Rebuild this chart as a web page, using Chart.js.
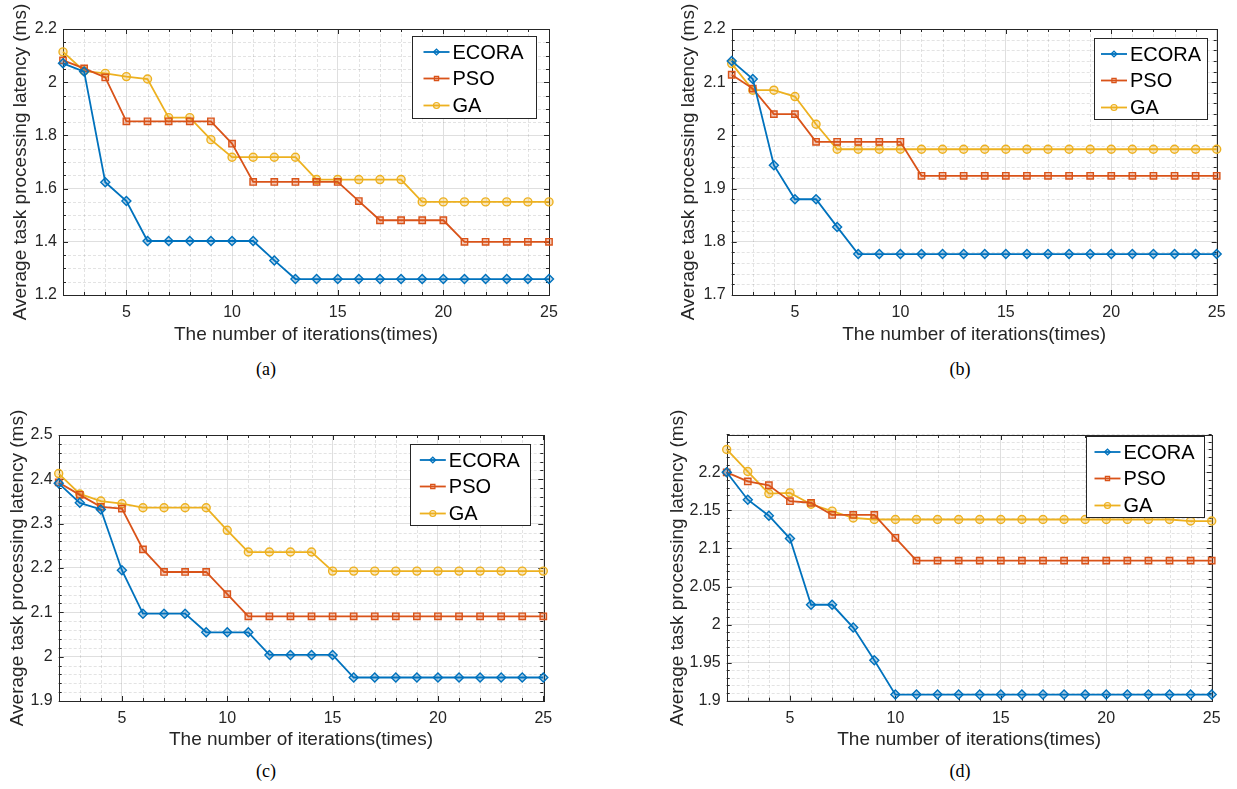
<!DOCTYPE html>
<html>
<head>
<meta charset="utf-8">
<script src="https://cdn.jsdelivr.net/npm/chart.js@4.4.1/dist/chart.umd.min.js"></script>
<style>
  body { margin: 0; background: #fff; width: 1237px; height: 789px; position: relative; overflow: hidden; }
  canvas { position: absolute; }
  .cap { position: absolute; font-family: "Liberation Serif", "Times New Roman", serif; font-size: 18px; color: #000; transform: translateX(-50%); }
</style>
</head>
<body>
<canvas id="ca" width="600" height="350" style="left:0;top:0"></canvas>
<canvas id="cb" width="577" height="350" style="left:660px;top:0"></canvas>
<canvas id="cc" width="600" height="360" style="left:0;top:400px"></canvas>
<canvas id="cd" width="577" height="360" style="left:660px;top:400px"></canvas>
<div class="cap" style="left:266px;top:359px">(a)</div>
<div class="cap" style="left:960px;top:359px">(b)</div>
<div class="cap" style="left:266px;top:761px">(c)</div>
<div class="cap" style="left:960px;top:761px">(d)</div>
<script>
// iterations on the x axis
const iterations = [2, 3, 4, 5, 6, 7, 8, 9, 10, 11, 12, 13, 14, 15, 16, 17, 18, 19, 20, 21, 22, 23, 24, 25];
const xTicks = [5, 10, 15, 20, 25];
const seriesNames = ['ECORA', 'PSO', 'GA'];

// (a)
const ecoraA = [2.071, 2.040, 1.624, 1.553, 1.403, 1.403, 1.403, 1.403, 1.403, 1.403, 1.330, 1.260, 1.260, 1.260, 1.260, 1.260, 1.260, 1.260, 1.260, 1.260, 1.260, 1.260, 1.260, 1.260];
const psoA = [2.082, 2.052, 2.018, 1.853, 1.853, 1.853, 1.853, 1.853, 1.769, 1.625, 1.625, 1.625, 1.625, 1.625, 1.553, 1.481, 1.481, 1.481, 1.481, 1.400, 1.400, 1.400, 1.400, 1.400];
const gaA = [2.114, 2.042, 2.033, 2.021, 2.012, 1.867, 1.867, 1.784, 1.718, 1.718, 1.718, 1.718, 1.634, 1.634, 1.634, 1.634, 1.634, 1.550, 1.550, 1.550, 1.550, 1.550, 1.550, 1.550];
const yTicksA = [1.2, 1.4, 1.6, 1.8, 2.0, 2.2];

// (b)
const ecoraB = [2.140, 2.106, 1.944, 1.880, 1.880, 1.828, 1.777, 1.777, 1.777, 1.777, 1.777, 1.777, 1.777, 1.777, 1.777, 1.777, 1.777, 1.777, 1.777, 1.777, 1.777, 1.777, 1.777, 1.777];
const psoB = [2.114, 2.088, 2.040, 2.040, 1.988, 1.988, 1.988, 1.988, 1.988, 1.924, 1.924, 1.924, 1.924, 1.924, 1.924, 1.924, 1.924, 1.924, 1.924, 1.924, 1.924, 1.924, 1.924, 1.924];
const gaB = [2.135, 2.085, 2.085, 2.073, 2.021, 1.974, 1.974, 1.974, 1.974, 1.974, 1.974, 1.974, 1.974, 1.974, 1.974, 1.974, 1.974, 1.974, 1.974, 1.974, 1.974, 1.974, 1.974, 1.974];
const yTicksB = [1.7, 1.8, 1.9, 2.0, 2.1, 2.2];

// (c)
const ecoraC = [2.391, 2.347, 2.332, 2.195, 2.097, 2.097, 2.097, 2.055, 2.055, 2.055, 2.004, 2.004, 2.004, 2.004, 1.953, 1.953, 1.953, 1.953, 1.953, 1.953, 1.953, 1.953, 1.953, 1.953];
const psoC = [2.393, 2.365, 2.338, 2.334, 2.242, 2.191, 2.191, 2.191, 2.141, 2.091, 2.091, 2.091, 2.091, 2.091, 2.091, 2.091, 2.091, 2.091, 2.091, 2.091, 2.091, 2.091, 2.091, 2.091];
const gaC = [2.413, 2.367, 2.351, 2.345, 2.336, 2.336, 2.336, 2.336, 2.285, 2.236, 2.236, 2.236, 2.236, 2.193, 2.193, 2.193, 2.193, 2.193, 2.193, 2.193, 2.193, 2.193, 2.193, 2.193];
const yTicksC = [1.9, 2.0, 2.1, 2.2, 2.3, 2.4, 2.5];

// (d)
const ecoraD = [2.200, 2.164, 2.143, 2.113, 2.026, 2.026, 1.996, 1.953, 1.908, 1.908, 1.908, 1.908, 1.908, 1.908, 1.908, 1.908, 1.908, 1.908, 1.908, 1.908, 1.908, 1.908, 1.908, 1.908];
const psoD = [2.200, 2.188, 2.183, 2.162, 2.160, 2.144, 2.144, 2.144, 2.114, 2.084, 2.084, 2.084, 2.084, 2.084, 2.084, 2.084, 2.084, 2.084, 2.084, 2.084, 2.084, 2.084, 2.084, 2.084];
const gaD = [2.230, 2.201, 2.172, 2.173, 2.158, 2.149, 2.140, 2.138, 2.138, 2.138, 2.138, 2.138, 2.138, 2.138, 2.138, 2.138, 2.138, 2.138, 2.138, 2.138, 2.138, 2.138, 2.136, 2.136];
const yTicksD = [1.9, 1.95, 2.0, 2.05, 2.1, 2.15, 2.2];

const colors = ['#0072BD', '#D95319', '#EDB120'];
const fills = ['rgba(0,114,189,0.3)', 'rgba(217,83,25,0.3)', 'rgba(237,177,32,0.3)'];
const markers = ['rectRot', 'rect', 'circle'];
const markerSize = [4.5, 4.5, 4];
const axisColor = '#262626';
const fontName = '"Liberation Sans", Arial, Helvetica, sans-serif';

function toPoints(vals) {
  return iterations.map((it, i) => ({ x: it, y: vals[i] }));
}

// MATLAB style box: dashed minor grid, frame, inward ticks
const matlabBox = {
  id: 'matlabBox',
  beforeDatasetsDraw(chart, args, opts) {
    const { ctx, chartArea: a } = chart;
    const xs = chart.scales.x, ys = chart.scales.y;
    const xMinor = [], yMinor = [];
    for (let v = xs.min; v <= xs.max + 1e-9; v += 1) xMinor.push(v);
    const n = Math.round((ys.max - ys.min) / opts.yMinorStep);
    for (let i = 0; i <= n; i++) yMinor.push(ys.min + i * opts.yMinorStep);
    const isMajor = (v, list) => list.some(t => Math.abs(t - v) < 1e-6);

    ctx.save();
    ctx.lineWidth = 1;
    ctx.strokeStyle = 'rgba(38,38,38,0.13)';
    ctx.setLineDash([3, 2]);
    xMinor.forEach(v => {
      if (isMajor(v, xTicks)) return;
      const px = Math.round(xs.getPixelForValue(v)) + 0.5;
      ctx.beginPath(); ctx.moveTo(px, a.top); ctx.lineTo(px, a.bottom); ctx.stroke();
    });
    yMinor.forEach(v => {
      if (isMajor(v, opts.yTicks)) return;
      const py = Math.round(ys.getPixelForValue(v)) + 0.5;
      ctx.beginPath(); ctx.moveTo(a.left, py); ctx.lineTo(a.right, py); ctx.stroke();
    });
    ctx.setLineDash([]);

    // frame
    ctx.strokeStyle = axisColor;
    ctx.strokeRect(Math.round(a.left) + 0.5, Math.round(a.top) + 0.5, Math.round(a.right - a.left), Math.round(a.bottom - a.top));

    // inward ticks
    ctx.beginPath();
    xMinor.forEach(v => {
      const len = isMajor(v, xTicks) ? 5 : 3;
      const px = Math.round(xs.getPixelForValue(v)) + 0.5;
      ctx.moveTo(px, a.bottom); ctx.lineTo(px, a.bottom - len);
      ctx.moveTo(px, a.top); ctx.lineTo(px, a.top + len);
    });
    yMinor.forEach(v => {
      const len = isMajor(v, opts.yTicks) ? 5 : 3;
      const py = Math.round(ys.getPixelForValue(v)) + 0.5;
      ctx.moveTo(a.left, py); ctx.lineTo(a.left + len, py);
      ctx.moveTo(a.right, py); ctx.lineTo(a.right - len, py);
    });
    ctx.stroke();
    ctx.restore();
  },
  afterDatasetsDraw(chart, args, opts) {
    const { ctx, chartArea: a } = chart;
    const L = opts.legend;
    const bx = Math.round(a.right - L.right - L.w) + 0.5;
    const by = Math.round(a.top + L.top) + 0.5;
    ctx.save();
    ctx.fillStyle = '#fff';
    ctx.fillRect(bx, by, L.w, L.h);
    ctx.strokeStyle = axisColor;
    ctx.lineWidth = 1;
    ctx.strokeRect(bx, by, L.w, L.h);
    const rows = [15.5, 42, 69];
    chart.data.datasets.forEach((ds, i) => {
      const y = by + rows[i];
      const x0 = bx + L.lineX, x1 = x0 + 26;
      ctx.strokeStyle = ds.borderColor;
      ctx.lineWidth = 1.8;
      ctx.beginPath(); ctx.moveTo(x0, y); ctx.lineTo(x1, y); ctx.stroke();
      ctx.fillStyle = ds.pointBackgroundColor;
      ctx.lineWidth = 1.2;
      Chart.helpers.drawPoint(ctx, { pointStyle: ds.pointStyle, radius: 3, borderWidth: 1.2, rotation: 0 }, (x0 + x1) / 2, y);
      ctx.fillStyle = '#000';
      ctx.font = '20px ' + fontName;
      ctx.textBaseline = 'middle';
      ctx.textAlign = 'left';
      ctx.fillText(ds.label, x1 + 3, y + 1);
    });
    ctx.restore();
  }
};

function makePanel(id, series, yTicks, yMax, yMinorStep, p) {
  const datasets = series.map((vals, i) => ({
    label: seriesNames[i],
    data: toPoints(vals),
    borderColor: colors[i],
    backgroundColor: fills[i],
    pointBackgroundColor: fills[i],
    pointBorderColor: colors[i],
    pointStyle: markers[i],
    pointRadius: markerSize[i],
    pointBorderWidth: 1.4,
    borderWidth: 1.8,
    tension: 0,
    clip: false
  }));
  new Chart(document.getElementById(id), {
    type: 'line',
    data: { datasets },
    options: {
      responsive: false,
      animation: false,
      events: [],
      layout: { padding: { left: 0, top: p.top, right: p.right, bottom: 0 } },
      plugins: {
        legend: { display: false },
        tooltip: { enabled: false },
        matlabBox: { yTicks, yMinorStep, legend: p.legend }
      },
      scales: {
        x: {
          type: 'linear',
          min: 2,
          max: 25,
          afterBuildTicks: s => { s.ticks = xTicks.map(v => ({ value: v })); },
          afterFit: s => { s.height = p.xh; },
          grid: { color: '#dfdfdf', lineWidth: 1, drawTicks: false },
          border: { display: false },
          ticks: { color: axisColor, padding: 8, maxRotation: 0, font: { family: fontName, size: 16 } },
          title: { display: true, text: 'The number of iterations(times)', color: axisColor, padding: { top: 0, bottom: p.xt }, font: { family: fontName, size: 19 } }
        },
        y: {
          min: yTicks[0],
          max: yMax,
          afterBuildTicks: s => { s.ticks = yTicks.map(v => ({ value: v })); },
          afterFit: s => { s.width = p.yw; },
          grid: { color: '#dfdfdf', lineWidth: 1, drawTicks: false },
          border: { display: false },
          ticks: { color: axisColor, padding: 6, font: { family: fontName, size: 16 }, callback: v => String(Number(v.toFixed(3))) },
          title: { display: true, text: 'Average task processing latency (ms)', color: axisColor, padding: { top: p.yt, bottom: 0 }, font: { family: fontName, size: 19 } }
        }
      }
    },
    plugins: [matlabBox]
  });
}

makePanel('ca', [ecoraA, psoA, gaA], yTicksA, 2.2, 0.05,
  { top: 29, right: 51, yw: 63, xh: 55, yt: 9, xt: 4, legend: { right: 13, top: 7, w: 124, h: 82, lineX: 11 } });
makePanel('cb', [ecoraB, psoB, gaB], yTicksB, 2.2, 0.02,
  { top: 29, right: 20.3, yw: 71.7, xh: 55, yt: 17, xt: 4, legend: { right: 9.7, top: 8.7, w: 113, h: 81, lineX: 6.5 } });
makePanel('cc', [ecoraC, psoC, gaC], yTicksC, 2.5, 0.02,
  { top: 35, right: 56.7, yw: 58.7, xh: 59, yt: 6.7, xt: 8.7, legend: { right: 13, top: 9, w: 120, h: 81, lineX: 9.3 } });
makePanel('cd', [ecoraD, psoD, gaD], yTicksD, 2.249, 0.01,
  { top: 35, right: 25.3, yw: 66.7, xh: 59.3, yt: 6.7, xt: 8.7, legend: { right: 7.7, top: 1, w: 118, h: 81, lineX: 8 } });
</script>
</body>
</html>
